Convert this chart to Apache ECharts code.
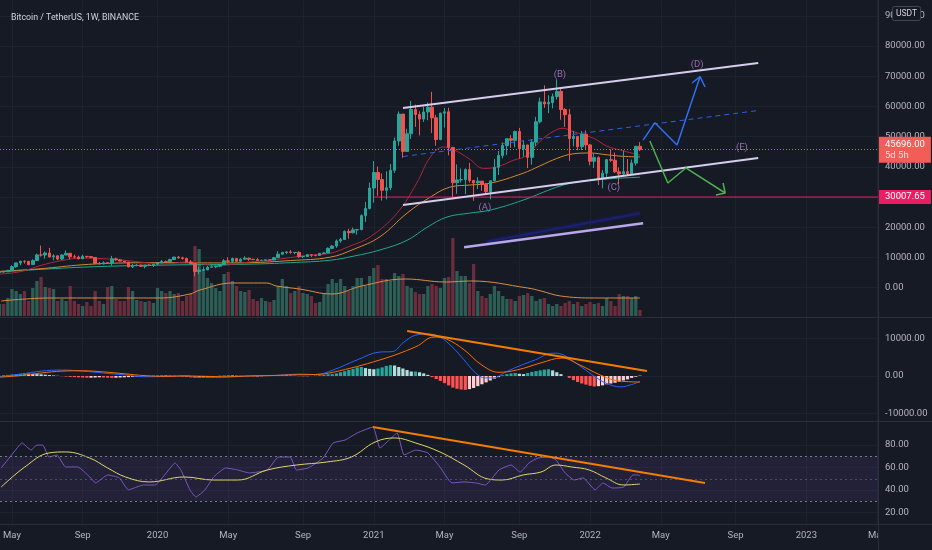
<!DOCTYPE html>
<html><head><meta charset="utf-8">
<script src="https://cdn.jsdelivr.net/npm/echarts@6/dist/echarts.min.js"></script>
<style>html,body{margin:0;padding:0;background:#161a25;}#c{width:932px;height:550px;}</style>
</head><body><div id="c"></div>
<script>
// Weekly candles from week of 2019-04-15, [open, close, low, high]
const candles = [
[5070,5280,4980,5350],[5290,5270,5050,5640],[5270,5750,5150,5900],[5750,6960,5660,7450],[6960,8190,6600,8360],
[8190,8740,7450,8950],[8740,8730,7980,9070],[8740,7640,7440,8830],[7640,8990,7520,9390],[8990,10850,8950,11280],
[10850,10820,10300,13970],[10820,11480,9620,12000],[11480,10200,10100,13180],[10200,10550,9070,11080],[10550,9480,9110,10650],
[9480,10810,9170,11080],[10810,11390,10850,12330],[11390,10220,9460,11450],[10220,10140,9730,10950],[10140,9600,9360,10630],
[9600,10390,9560,10910],[10390,10300,9880,10460],[10300,10030,9740,10360],[10030,8050,7710,10050],[8050,7860,7750,8520],
[7860,8280,7780,8750],[8280,8220,7850,8430],[8220,9550,7300,10540],[9550,9200,8970,9950],[9200,8810,8700,9500],
[8810,8500,8300,8880],[8500,6900,6790,8500],[6900,7400,6520,7870],[7400,7510,7070,7750],[7510,7080,6850,7640],
[7080,7510,6440,7520],[7510,7390,7140,7700],[7390,7760,6850,7810],[7760,8180,7670,8460],[8180,8700,8120,9190],
[8700,8620,8240,8990],[8620,9330,8470,9570],[9330,10150,9150,10160],[10150,9910,9630,10500],[9910,9660,9300,10250],
[9660,8530,8410,9960],[8530,8030,7850,9190],[8030,5360,3780,8180],[5360,5820,4440,6900],[5820,5880,5660,6990],
[5880,6770,5860,7200],[6770,6900,6770,7470],[6900,7120,6470,7300],[7120,7700,6800,7750],[7700,8900,7650,9470],
[8900,8720,8100,10070],[8720,9680,8200,9950],[9680,8720,8700,9840],[8720,9450,8630,9740],[9450,9760,9270,10430],
[9760,9390,8910,10000],[9390,9300,9200,9580],[9300,9010,8830,9800],[9010,9070,8940,9310],[9070,9230,9040,9460],
[9230,9160,9000,9330],[9160,9930,9100,10190],[9930,11100,9880,12120],[11100,11680,10960,11920],[11680,11850,11120,12090],
[11850,11650,11260,12470],[11650,11700,11100,11800],[11700,10250,9880,12050],[10250,10330,9880,10590],[10330,10920,10200,11180],
[10920,10770,10140,10990],[10770,10670,10370,10950],[10670,11380,10550,11490],[11380,11500,11200,11730],[11500,13030,11410,13350],
[13030,13800,12900,14100],[13800,15480,13200,15960],[15480,15960,14860,16480],[15960,18660,15790,18960],[18660,18180,16200,19500],
[18180,19150,18000,19920],[19150,19270,17600,19420],[19270,23850,19000,24300],[23850,26250,21810,28420],[26250,33000,25900,34780],
[33000,38150,28130,41950],[38150,35830,30420,40100],[35830,32260,28850,37850],[32260,33090,29240,38530],[33090,38880,32300,40960],
[38880,48580,37990,49710],[48580,57490,47000,58350],[57490,45140,43000,57530],[45140,50970,44950,52640],[50970,59020,49270,61840],
[59020,57350,53270,60630],[57350,55820,50430,58420],[55820,58200,54900,60000],[58200,59770,55460,61300],[59770,56250,51200,64850],
[56250,49070,47000,57200],[49070,57800,48800,57960],[57800,58250,53000,59500],[58250,46430,43820,59600],[46430,34770,30000,46660],
[34770,35680,31110,40840],[35680,35800,34800,39480],[35800,39100,31000,39500],[39100,35520,34800,41330],[35520,34700,28800,35600],
[34700,35290,32700,36600],[35290,34260,32100,35300],[34260,31780,31100,34680],[31780,35400,29280,35400],[35400,39850,35200,42600],
[39850,43800,37300,45300],[43800,47080,42800,48140],[47080,49330,43950,49380],[49330,48800,46300,50500],[48800,51750,46500,52000],
[51750,45990,42800,52920],[45990,47260,43370,48850],[47260,43160,39600,47370],[43160,48200,40750,49230],[48200,54950,46900,56560],
[54950,61530,54400,62930],[61530,60850,59550,67000],[60850,61300,57800,63700],[61300,63270,59400,64270],[63270,65000,62300,69000],
[65000,59000,55600,66300],[59000,57270,53250,59480],[57270,49400,42000,59200],[49400,50100,46800,51950],[50100,46680,45500,50200],
[46680,50800,45560,51870],[50800,47290,45680,52090],[47290,41870,40500,47560],[41870,43080,39650,44470],[43080,36280,34010,43500],
[36280,37920,32920,38920],[37920,42410,36250,42650],[42410,42200,41670,45850],[42200,38380,38000,44770],[38380,37700,34320,39840],
[37700,38420,37150,45400],[38420,37780,37160,42600],[37780,41260,37580,42430],[41260,46820,40470,46950],[46820,45696,45200,48190]
];
// Weekly volume (thousand BTC)
const volumes = [
180,180,270,405,375,330,375,225,420,525,585,435,420,405,225,255,225,450,225,180,
150,210,150,375,225,180,435,450,255,225,225,435,375,240,225,210,225,195,420,375,
345,375,330,345,225,300,330,1050,1005,705,570,495,420,375,630,660,525,450,375,360,
390,255,225,270,225,210,240,450,555,450,345,375,450,345,330,300,195,210,345,480,
555,495,555,450,375,450,570,570,450,600,720,765,555,555,525,645,600,630,450,420,
360,330,330,450,480,450,420,570,585,1170,675,600,600,495,780,375,300,270,330,450,
375,300,255,255,225,300,315,345,300,225,255,270,180,150,180,150,195,225,180,210,
150,180,210,180,195,150,270,225,150,330,300,300,270,300,90
];
const volMA = [[0.4,225],[12.3,270],[28.3,270],[38.6,270],[45.8,330],[48.2,390],[56.1,495],[64.2,495],[66.6,450],[72.1,405],[80,330],[87.1,450],[97.7,555],[107.2,510],[113.4,525],[127,420],[130.2,375],[134.9,300],[143.1,270],[154,270]];
const maRed = [[0,4500],[5,5300],[10,7400],[15,9000],[20,9800],[25,9600],[30,9100],[35,8300],[40,7900],[45,8500],[48,8100],[52,7300],[56,7700],[60,8500],[65,9100],[70,10000],[74,10700],[79.5,11400],[84.3,13800],[89.1,16800],[95.6,24700],[100.3,34600],[103.6,43300],[106.7,46600],[109.1,45800],[113.1,42500],[116.4,39500],[119.6,40000],[123.6,42200],[126.8,43800],[129.9,48400],[133.1,51700],[135.5,52800],[137.9,51700],[142.8,49500],[146,46900],[149.2,45600],[154,43900]];
const maOrange = [[0,5400],[10,6300],[20,7600],[30,8200],[40,8300],[50,8200],[60,8300],[70,9000],[79.5,10100],[85.3,12800],[91.5,16900],[98,24700],[103.6,30000],[108.3,33300],[113.1,34000],[118,34600],[125.9,37900],[129.9,40300],[134,42800],[137.8,44300],[141.9,44600],[146.1,44000],[149.9,43500],[154,43300]];
const maTeal = [[0,5200],[20,6800],[40,7500],[60,7800],[70,8300],[79.5,9100],[85.3,10500],[91.5,12500],[98,15700],[102.8,20000],[107.6,23400],[113.1,24700],[118,25700],[125.9,29000],[134,33300],[138.8,35000],[146.1,36000],[154,36600]];
const macdLine = [[0,-200],[5,500],[10,1300],[15,1600],[20,1300],[25,800],[30,300],[35,-200],[40,-100],[45,100],[47,-300],[52,-400],[57,-100],[62,100],[67,200],[72,500],[76,400],[80.2,1600],[86,4300],[91.5,6400],[94.4,6500],[97.2,9000],[100.1,10900],[103,11200],[105.9,10400],[108.8,7800],[111.7,4300],[114.5,800],[116.8,-500],[118.7,-500],[121.6,1000],[124.4,2400],[128.8,4300],[133.1,6100],[135.2,5800],[137.5,4300],[140.3,2100],[143.2,-200],[145.8,-1900],[149.4,-2900],[151.6,-2400],[154,-1500]];
const signalLine = [[0,-300],[5,100],[10,800],[15,1300],[20,1400],[25,1100],[30,600],[35,100],[40,-100],[45,0],[50,-100],[55,-200],[60,0],[65,100],[70,300],[76,400],[80.2,1000],[91.5,4300],[100.1,7800],[104.5,10400],[107.4,9900],[111.7,7000],[116,2900],[120.1,1000],[124.4,1600],[130.2,3500],[135.2,4800],[139.6,2900],[144.4,300],[148.7,-1300],[154,-1600]];
const macdHist = [
100,200,300,400,500,600,700,650,550,500,450,350,250,150,50,-50,-150,-250,-300,-350,
-400,-450,-450,-400,-350,-400,-450,-500,-450,-400,-350,-300,-250,-200,-150,-50,50,100,150,200,
150,100,50,-50,-150,-250,-350,-450,-400,-300,-200,-100,0,100,150,200,150,100,50,0,
-50,-100,-100,-50,0,50,100,150,200,150,100,50,-50,-100,-50,0,100,200,300,450,
500,700,1000,1300,1600,1900,2300,2400,2100,1900,1800,2000,2300,2700,2900,2800,2400,2000,1600,1200,
1200,1000,700,300,-300,-800,-1300,-1900,-2500,-3100,-3400,-3600,-3700,-3500,-3200,-2700,-2200,-1700,-1200,-700,
-300,200,500,700,800,600,500,800,1100,1300,1500,1700,1800,1500,1000,500,0,-500,-1100,-1600,
-2000,-2300,-2600,-2800,-2700,-2500,-2200,-2000,-1800,-1500,-1200,-900,-500,-200,200
];
const rsiLine = [[0.4,59.6],[3.3,72.9],[5.4,81.7],[7.6,75.5],[9,79.9],[10.4,79.9],[11.9,69.3],[13.8,71.1],[15.9,60.5],[18.8,60.5],[21.7,51.6],[23.1,46.3],[26,53.4],[28.8,50.8],[31,40.2],[34.6,44.5],[37.4,44.5],[40.1,55.2],[42.2,64],[43.6,57.8],[45.8,40.2],[47.2,33.9],[49.4,40.2],[51.5,51.6],[54.4,59.6],[57.3,57.8],[60.1,55.2],[64.4,57.8],[67.1,69.3],[69.9,69.3],[71.4,57.8],[74.2,59.6],[77.8,68.4],[80.2,81.7],[83.1,84.4],[86,90.6],[89.8,95.9],[91.5,77.3],[93.7,84.4],[95.6,90.6],[97.3,71.1],[100.1,75.5],[103,72.9],[105.9,60.5],[108.8,46.3],[111.7,47.2],[114.5,46.3],[116.8,44.5],[120.1,57.8],[123,62.2],[125.2,56],[127.3,64],[129.5,68.4],[132.3,69.3],[133.8,66.7],[136,55.2],[138.2,48.9],[140.3,50.8],[143.2,40.2],[145.1,46.3],[147.3,41.8],[150.1,42.7],[152.3,53.4],[153.5,53.4],[154,52.5]];
const rsiMA = [[0.4,42.7],[6.1,60.5],[11.9,72.9],[15.9,73.8],[21.7,68.4],[26,59.6],[30.3,51.6],[36,47.2],[44.4,51.6],[51.5,48.9],[57.3,48.9],[64.4,57.8],[71.4,62.2],[78.7,64.9],[84.6,69.3],[90.3,82.6],[95.1,86.2],[100.1,81.7],[105.9,73.8],[111.7,62.2],[117.5,49.8],[120.9,48.9],[125.9,53.4],[130.2,56],[133.8,62.2],[137.5,60.5],[141.8,57.8],[145.8,50.8],[150.1,44.5],[154,45.4]];
// time axis ticks (week index of first bar in month)
const tickWeeks = [3,20,38,55,73,90,107,125,142,159,177,194,211];
const tickLabels = ['May','Sep','2020','May','Sep','2021','May','Sep','2022','May','Sep','2023','May'];
const priceTicks = [0,10000,20000,30000,40000,50000,60000,70000,80000,90000];
const macdTicks = [-10000,0,10000];
const rsiTicks = [20,40,60,80];
const lastPrice = 45696, lastPriceTimer = '5d 5h', levelPrice = 30007.65;
// drawings (week index, value)
const channelUpper = [[97.02,59500],[182.43,74400]];
const channelLower = [[97.02,27380],[182.43,42950]];
const channelMid = [[97.02,43440],[182.43,58680]];
const waveLabels = [['(A)',116.73,26600],['(B)',134.74,70430],['(C)',147.72,33300],['(D)',167.74,73740],['(E)',178.51,46260]];
const blueArrow = [[154.76,48870],[157.58,54640],[162.91,47250],[168.44,69870]];
const blueHead = [[166.53,67780],[168.44,69870],[169.65,66460]];
const greenArrow = [[156.37,48580],[160.7,34670],[165.02,39640],[174.48,31360]];
const greenHead = [[172.27,30700],[174.48,31360],[173.98,34670]];
const lavenderLine = [[111.71,13380],[154.76,21320]];
const navyLine = [[117.14,15230],[153.96,24640]];
const macdTrend = [[98.02,12000],[155.67,1330]];
const rsiTrend = [[89.77,95.9],[169.65,46.3]];
const levelStart = 89.77;

const BG='#161a25', GRID_C='#1e2230', SEP_C='#2a2e39', TXT='#b2b5be', FONT='Roboto';
const UP='#26a69a', DN='#ef5350';
const X_MIN=0.12, X_MAX=211.23, X_MAX_LABEL=224.22;
const inTicks = tickWeeks.filter(v=>v<=X_MAX);
const levelLine = [[levelStart, levelPrice],[X_MAX, levelPrice]];

const paneX = (gi, split) => ({type:'value', gridIndex:gi, min:X_MIN, max:X_MAX,
  axisLine:{show:false}, axisTick:{show:false, customValues:inTicks}, axisLabel:{show:false},
  splitLine:{show:split, lineStyle:{color:GRID_C, width:1}}});
const paneY = (gi, min, max, ticks, fmt) => ({type:'value', gridIndex:gi, position:'right', min, max,
  axisLine:{show:false}, axisTick:{show:false, customValues:ticks},
  axisLabel:{customValues:ticks, formatter:fmt, color:TXT, fontSize:9.5, fontFamily:FONT, margin:7},
  splitLine:{show:true, lineStyle:{color:GRID_C, width:1}}});
const lineS = (data, color, width, xi, yi, extra) => Object.assign({type:'line', xAxisIndex:xi, yAxisIndex:yi, data,
  symbol:'none', silent:true, lineStyle:{color, width}, z:3}, extra||{});

const histData = macdHist.map((h,i)=>{
  const prev = i>0 ? macdHist[i-1] : 0;
  const c = h>=0 ? (h>=prev ? '#26a69a' : '#b2dfdb') : (h<prev ? '#ff5252' : '#ffcdd2');
  return {value:[i,h], itemStyle:{color:c}};
});
const volData = volumes.map((v,i)=>({value:[i,v], itemStyle:{color: candles[i][1]>=candles[i][0] ? '#2d5e55' : '#6b2d3b'}}));

const chart = echarts.init(document.getElementById('c'));
chart.setOption({
  animation:false,
  backgroundColor:BG,
  title:{text:'Bitcoin / TetherUS, 1W, BINANCE', left:6, top:8, textStyle:{color:'#d1d4dc', fontSize:8.8, fontWeight:'normal', fontFamily:FONT}},
  grid:[
    {left:0, right:54, top:0.8, height:317.1},
    {left:0, right:54, top:229.3, height:86.7},
    {left:0, right:54, top:317.9, height:103.1},
    {left:0, right:54, top:422.4, height:101.5},
    {left:0, right:0, top:524, height:1}
  ],
  xAxis:[
    paneX(0,true), paneX(1,false), paneX(2,true), paneX(3,true),
    {type:'value', gridIndex:4, min:X_MIN, max:X_MAX_LABEL, axisLine:{show:false}, axisTick:{show:false}, splitLine:{show:false},
     axisLabel:{show:true, customValues:tickWeeks, formatter:v=>{const k=tickWeeks.indexOf(v);return k>=0?tickLabels[k]:'';}, color:TXT, fontSize:9.5, fontFamily:FONT, margin:6}}
  ],
  yAxis:[
    paneY(0,-10000,95000,priceTicks,v=>v.toFixed(2)),
    {type:'value', gridIndex:1, min:0, max:1300, show:false},
    paneY(2,-12000,15500,macdTicks,v=>v.toFixed(2)),
    paneY(3,10,100,rsiTicks,v=>v.toFixed(2)),
    {type:'value', gridIndex:4, show:false}
  ],
  series:[
    {type:'bar', xAxisIndex:1, yAxisIndex:1, data:volData, barWidth:3.3, silent:true, z:1},
    lineS(volMA,'#d98e44',1,1,1,{smooth:0.4, z:2}),
    lineS(maTeal,'#1fa88f',1,0,0,{smooth:0.4}),
    lineS(maOrange,'#d48a2c',1,0,0,{smooth:0.4}),
    lineS(maRed,'#b3243f',1,0,0,{smooth:0.4}),
    lineS(levelLine,'#e91e63',1,0,0,{z:3, clip:false,
      endLabel:{show:true, distance:1, formatter:levelPrice.toFixed(2), color:'#fff', backgroundColor:'#e91e63', padding:[2,6,2,6], fontSize:9.5, fontFamily:FONT}}),
    {type:'candlestick', xAxisIndex:0, yAxisIndex:0, barWidth:3, silent:true, z:4,
     data:candles.map((c,i)=>[i,c[0],c[1],c[2],c[3]]), encode:{x:0, y:[1,2,3,4]},
     itemStyle:{color:UP, color0:DN, borderColor:UP, borderColor0:DN, borderWidth:1},
     markLine:{silent:true, symbol:['none','none'], animation:false, data:[
       {yAxis:lastPrice, lineStyle:{color:'#f35d57', type:[1,2], width:1},
        label:{show:true, position:'end', distance:1, formatter:'{a|'+lastPrice.toFixed(2)+'}\n{b|'+lastPriceTimer+'}', backgroundColor:'#f35d57', padding:[2,6,2,6],
          rich:{a:{color:'#fff', fontSize:9.5, fontFamily:FONT, lineHeight:11}, b:{color:'#ffe0de', fontSize:9.5, fontFamily:FONT, lineHeight:11}}}}
     ]}},
    lineS(channelUpper,'#d6cdee',2,0,0,{z:5}),
    lineS(channelLower,'#d6cdee',2,0,0,{z:5}),
    lineS(channelMid,'#2f5fe0',1,0,0,{z:5, lineStyle:{color:'#2f5fe0', width:1, type:[5,4]}}),
    lineS(navyLine,'#1c2070',2,0,0,{z:5, lineStyle:{color:'#1c2070', width:2, shadowColor:'#1c2080', shadowBlur:3}}),
    lineS(lavenderLine,'#b9a7ec',2.5,0,0,{z:5}),
    lineS(blueArrow,'#2f6ff0',1.5,0,0,{z:6}),
    lineS(blueHead,'#2f6ff0',1.5,0,0,{z:6}),
    lineS(greenArrow,'#4caf50',1.5,0,0,{z:6}),
    lineS(greenHead,'#4caf50',1.5,0,0,{z:6}),
    {type:'scatter', xAxisIndex:0, yAxisIndex:0, symbolSize:1, itemStyle:{color:'rgba(0,0,0,0)'}, silent:true, z:7,
     data:waveLabels.map(w=>({name:w[0], value:[w[1],w[2]]})),
     label:{show:true, position:'inside', formatter:'{b}', color:'#b87fd6', fontSize:9.5, fontFamily:FONT}},
    {type:'bar', xAxisIndex:2, yAxisIndex:2, data:histData, barWidth:3.2, silent:true, z:2},
    lineS(macdLine,'#2962ff',1,2,2,{smooth:0.4}),
    lineS(signalLine,'#ff6d00',1,2,2,{smooth:0.4}),
    lineS(macdTrend,'#f57c00',2,2,2,{z:5}),
    lineS(rsiLine,'#7e57c2',1,3,3,{smooth:0.15,
      markArea:{silent:true, itemStyle:{color:'rgba(126,87,194,0.12)'}, data:[[{yAxis:30},{yAxis:70}]]},
      markLine:{silent:true, symbol:['none','none'], label:{show:false}, data:[
        {yAxis:70, lineStyle:{color:'#787b86', type:[2,3], width:1}},
        {yAxis:50, lineStyle:{color:'rgba(120,123,134,0.5)', type:[2,3], width:1}},
        {yAxis:30, lineStyle:{color:'#787b86', type:[2,3], width:1}}]}}),
    lineS(rsiMA,'#e0d66b',1,3,3,{smooth:0.4}),
    lineS(rsiTrend,'#f57c00',2,3,3,{z:5})
  ],
  graphic:[
    {type:'line', shape:{x1:0,y1:317.5,x2:932,y2:317.5}, style:{stroke:SEP_C, lineWidth:1}, z:50},
    {type:'line', shape:{x1:0,y1:421.5,x2:932,y2:421.5}, style:{stroke:SEP_C, lineWidth:1}, z:50},
    {type:'line', shape:{x1:0,y1:524.5,x2:932,y2:524.5}, style:{stroke:SEP_C, lineWidth:1}, z:50},
    {type:'rect', shape:{x:879,y:525,width:53,height:25}, style:{fill:BG}, z:100},
    {type:'line', shape:{x1:878.5,y1:0,x2:878.5,y2:550}, style:{stroke:SEP_C, lineWidth:1}, z:101},
    {type:'rect', shape:{x:892.5,y:6.5,width:28,height:14,r:2}, style:{fill:BG, stroke:'#434651', lineWidth:1}, z:100},
    {type:'text', x:906.5, y:13.5, style:{text:'USDT', fill:'#d1d4dc', fontSize:8.5, fontFamily:FONT, align:'center', verticalAlign:'middle'}, z:101}
  ]
});
</script></body></html>
